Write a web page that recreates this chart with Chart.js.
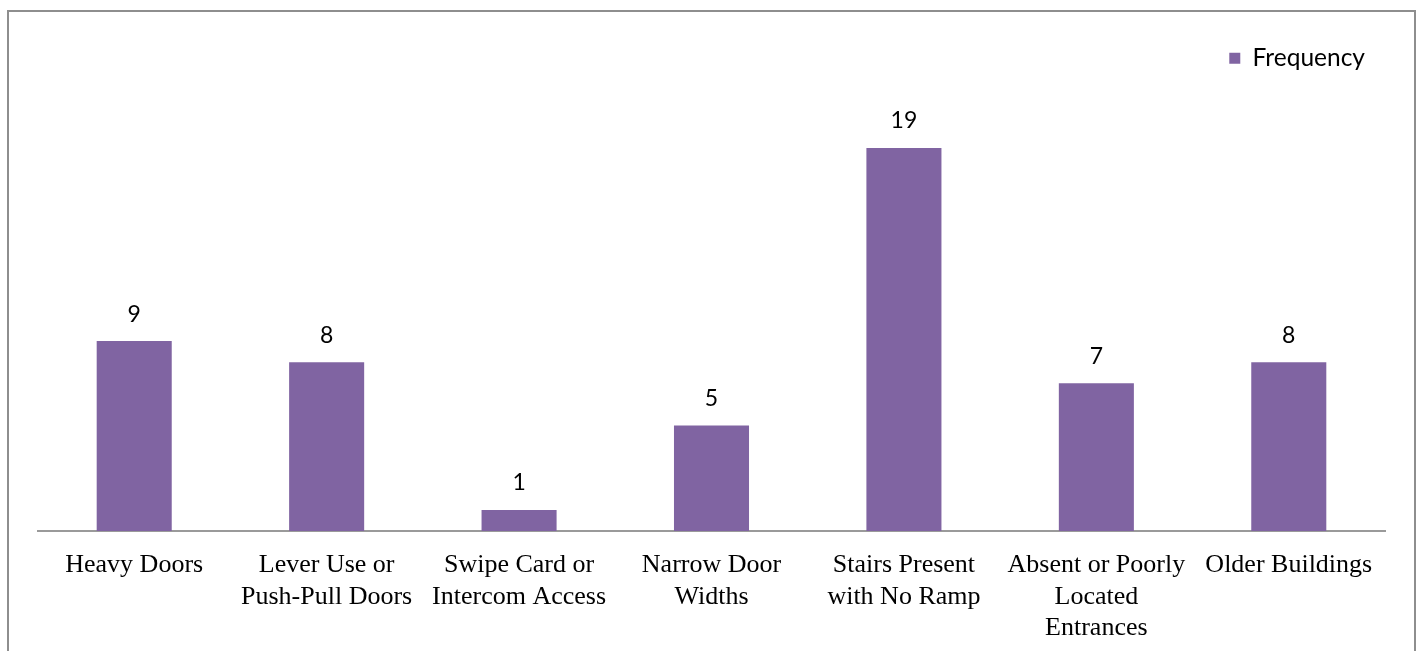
<!DOCTYPE html>
<html>
<head>
<meta charset="utf-8">
<script src="https://cdn.jsdelivr.net/npm/chart.js@4/dist/chart.umd.min.js"></script>
<style>
    body { margin: 0; background: #fff; }
    #moldura {
        position: absolute; left: 7px; top: 10px; width: 1405px; height: 700px;
        border: 2px solid #8e8e8e; border-bottom: none;
    }
    #grafico { position: absolute; left: 0; top: 0; }
</style>
</head>
<body>
<div id="moldura"></div>
<canvas id="grafico" width="1420" height="651"></canvas>
<script>
// categorias do eixo x (quebradas em linhas como no original)
const categorias = [
    'Heavy Doors',
    ['Lever Use or', 'Push-Pull Doors'],
    ['Swipe Card or', 'Intercom Access'],
    ['Narrow Door', 'Widths'],
    ['Stairs Present', 'with No Ramp'],
    ['Absent or Poorly', 'Located', 'Entrances'],
    'Older Buildings'
];
const frequencias = [9, 8, 1, 5, 19, 7, 8]; // valores de cada barra
const nomeSerie = 'Frequency';

// plugin que escreve o valor em cima de cada barra
const rotulosValor = {
    id: 'rotulosValor',
    afterDatasetsDraw(chart) {
        const ctx = chart.ctx;
        const area = chart.chartArea;
        ctx.save();
        ctx.font = '23px Lato';
        ctx.fillStyle = '#000';
        ctx.textAlign = 'center';
        ctx.textBaseline = 'middle';
        chart.getDatasetMeta(0).data.forEach(function(barra, i) {
            const topo = Math.max(barra.y, area.top);
            ctx.fillText(String(frequencias[i]), barra.x, topo - 27);
        });
        ctx.restore();
    }
};

// aumenta a altura da legenda para empurrar a area do grafico pra baixo
const espacoLegenda = {
    id: 'espacoLegenda',
    beforeInit(chart) {
        const fitOriginal = chart.legend.fit;
        chart.legend.fit = function() {
            fitOriginal.bind(chart.legend)();
            this.height = 122;
        };
    }
};

const ctx = document.getElementById('grafico').getContext('2d');
new Chart(ctx, {
    type: 'bar',
    data: {
        labels: categorias,
        datasets: [{
            label: nomeSerie,
            data: frequencias,
            backgroundColor: '#8064a2',
            borderWidth: 0,
            categoryPercentage: 1,
            barPercentage: 0.39,
            clip: 0
        }]
    },
    options: {
        responsive: false,
        animation: false,
        layout: { padding: { top: 26, left: 38, right: 35, bottom: 0 } },
        plugins: {
            legend: {
                position: 'top',
                align: 'end',
                labels: {
                    boxWidth: 11,
                    boxHeight: 11,
                    padding: 20,
                    color: '#000',
                    font: { family: 'Lato', size: 24.5 }
                }
            },
            tooltip: { enabled: false }
        },
        scales: {
            x: {
                grid: { display: false, drawTicks: false },
                border: { display: true, color: '#9a9a9a', width: 2 },
                afterFit: function(escala) { escala.height = 120; },
                ticks: {
                    color: '#000',
                    autoSkip: false,
                    maxRotation: 0,
                    padding: 19,
                    font: { family: 'Liberation Serif', size: 26, lineHeight: 1.2 }
                }
            },
            y: {
                display: false,
                min: 0,
                max: 18.15
            }
        }
    },
    plugins: [rotulosValor, espacoLegenda]
});
</script>
</body>
</html>
